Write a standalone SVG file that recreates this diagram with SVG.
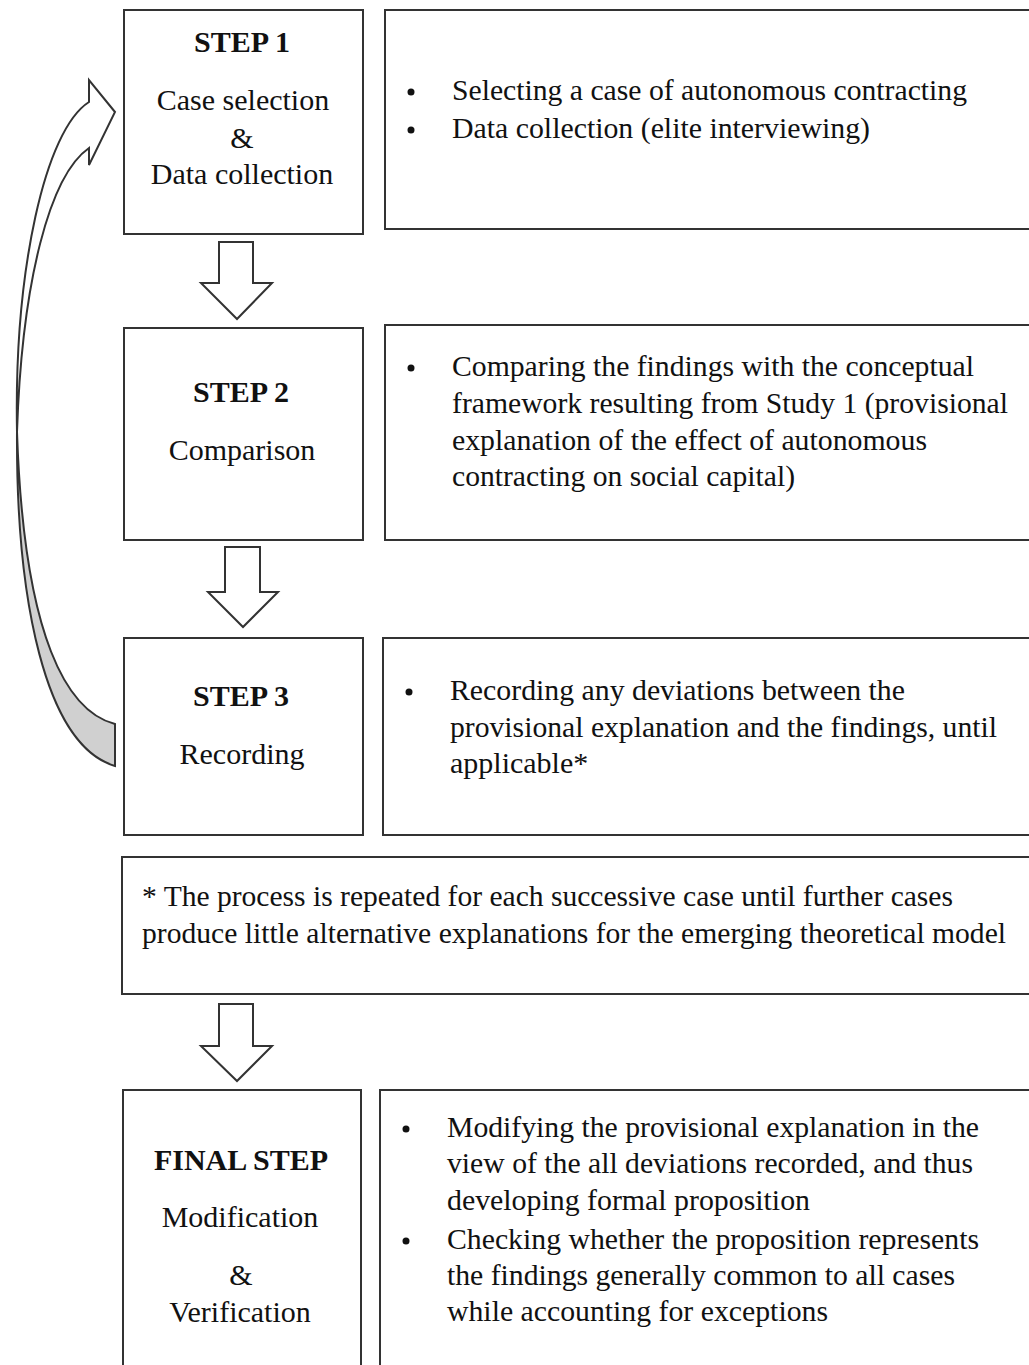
<svg xmlns="http://www.w3.org/2000/svg" width="1029" height="1365" viewBox="0 0 1029 1365">
<style>
  .box{fill:#fff;stroke:#333;stroke-width:2}
  .barrow{fill:#fff;stroke:#333;stroke-width:2;stroke-linejoin:miter}
  .t{font-family:"Liberation Serif","Times New Roman",serif;font-size:30px;fill:#111}
  .c{text-anchor:middle}
  .b{font-weight:bold}
  .curve{stroke:#333;stroke-width:2;stroke-linejoin:miter}
</style>
<rect width="1029" height="1365" fill="#fff"/>

<g id="connectors">
  <path class="barrow" d="M219,242 H253 V283 H272 L237,319 L201,283 H219 Z"/>
  <path class="barrow" d="M225,547 H260 V592 H278 L243,627 L208,592 H225 Z"/>
  <path class="barrow" d="M219,1004 H253 V1046 H272 L237,1081 L201,1046 H219 Z"/>
  <g id="loop-arrow">
    <path class="curve" fill="#d0d0d0" d="M115,724 C68,712 24,640 17,432 C16,600 45,745 115,766 Z"/>
    <path class="curve" fill="#fff" d="M17,432 C14,270 45,130 89,102 V80 L115,112 L89,165 V148 C50,175 22,280 17,432 Z"/>
  </g>
</g>

<g id="step1">
  <rect class="box" x="124" y="10" width="239" height="224"/>
  <text class="t c b" x="242" y="52">STEP 1</text>
  <text class="t c" x="243" y="110">Case selection</text>
  <text class="t c" x="242" y="148">&amp;</text>
  <text class="t c" x="242" y="184">Data collection</text>
</g>
<g id="step1-detail">
  <rect class="box" x="385" y="10" width="650" height="219"/>
  <circle cx="411" cy="92" r="3.5" fill="#111"/>
  <circle cx="411" cy="130" r="3.5" fill="#111"/>
  <text class="t" x="452" y="100" textLength="515" lengthAdjust="spacingAndGlyphs">Selecting a case of autonomous contracting</text>
  <text class="t" x="452" y="138" textLength="418" lengthAdjust="spacingAndGlyphs">Data collection (elite interviewing)</text>
</g>

<g id="step2">
  <rect class="box" x="124" y="328" width="239" height="212"/>
  <text class="t c b" x="241" y="402">STEP 2</text>
  <text class="t c" x="242" y="460">Comparison</text>
</g>
<g id="step2-detail">
  <rect class="box" x="385" y="325" width="650" height="215"/>
  <circle cx="411" cy="368" r="3.5" fill="#111"/>
  <text class="t" x="452" y="376" textLength="522" lengthAdjust="spacingAndGlyphs">Comparing the findings with the conceptual</text>
  <text class="t" x="452" y="413" textLength="556" lengthAdjust="spacingAndGlyphs">framework resulting from Study 1 (provisional</text>
  <text class="t" x="452" y="450" textLength="475" lengthAdjust="spacingAndGlyphs">explanation of the effect of autonomous</text>
  <text class="t" x="452" y="486" textLength="343" lengthAdjust="spacingAndGlyphs">contracting on social capital)</text>
</g>

<g id="step3">
  <rect class="box" x="124" y="638" width="239" height="197"/>
  <text class="t c b" x="241" y="706">STEP 3</text>
  <text class="t c" x="242" y="764">Recording</text>
</g>
<g id="step3-detail">
  <rect class="box" x="383" y="638" width="652" height="197"/>
  <circle cx="409" cy="692" r="3.5" fill="#111"/>
  <text class="t" x="450" y="700" textLength="455" lengthAdjust="spacingAndGlyphs">Recording any deviations between the</text>
  <text class="t" x="450" y="737" textLength="547" lengthAdjust="spacingAndGlyphs">provisional explanation and the findings, until</text>
  <text class="t" x="450" y="773">applicable*</text>
</g>

<g id="note">
  <rect class="box" x="122" y="857" width="913" height="137"/>
  <text class="t" x="142" y="906" textLength="811" lengthAdjust="spacingAndGlyphs">* The process is repeated for each successive case until further cases</text>
  <text class="t" x="142" y="943" textLength="864" lengthAdjust="spacingAndGlyphs">produce little alternative explanations for the emerging theoretical model</text>
</g>

<g id="final-step">
  <rect class="box" x="123" y="1090" width="238" height="285"/>
  <text class="t c b" x="241" y="1170">FINAL STEP</text>
  <text class="t c" x="240" y="1227">Modification</text>
  <text class="t c" x="241" y="1285">&amp;</text>
  <text class="t c" x="240" y="1322">Verification</text>
</g>
<g id="final-detail">
  <rect class="box" x="380" y="1090" width="655" height="285"/>
  <circle cx="406" cy="1129" r="3.5" fill="#111"/>
  <circle cx="406" cy="1241" r="3.5" fill="#111"/>
  <text class="t" x="447" y="1137" textLength="532" lengthAdjust="spacingAndGlyphs">Modifying the provisional explanation in the</text>
  <text class="t" x="447" y="1173" textLength="526" lengthAdjust="spacingAndGlyphs">view of the all deviations recorded, and thus</text>
  <text class="t" x="447" y="1210" textLength="363" lengthAdjust="spacingAndGlyphs">developing formal proposition</text>
  <text class="t" x="447" y="1249" textLength="532" lengthAdjust="spacingAndGlyphs">Checking whether the proposition represents</text>
  <text class="t" x="447" y="1285" textLength="508" lengthAdjust="spacingAndGlyphs">the findings generally common to all cases</text>
  <text class="t" x="447" y="1321" textLength="381" lengthAdjust="spacingAndGlyphs">while accounting for exceptions</text>
</g>
</svg>
